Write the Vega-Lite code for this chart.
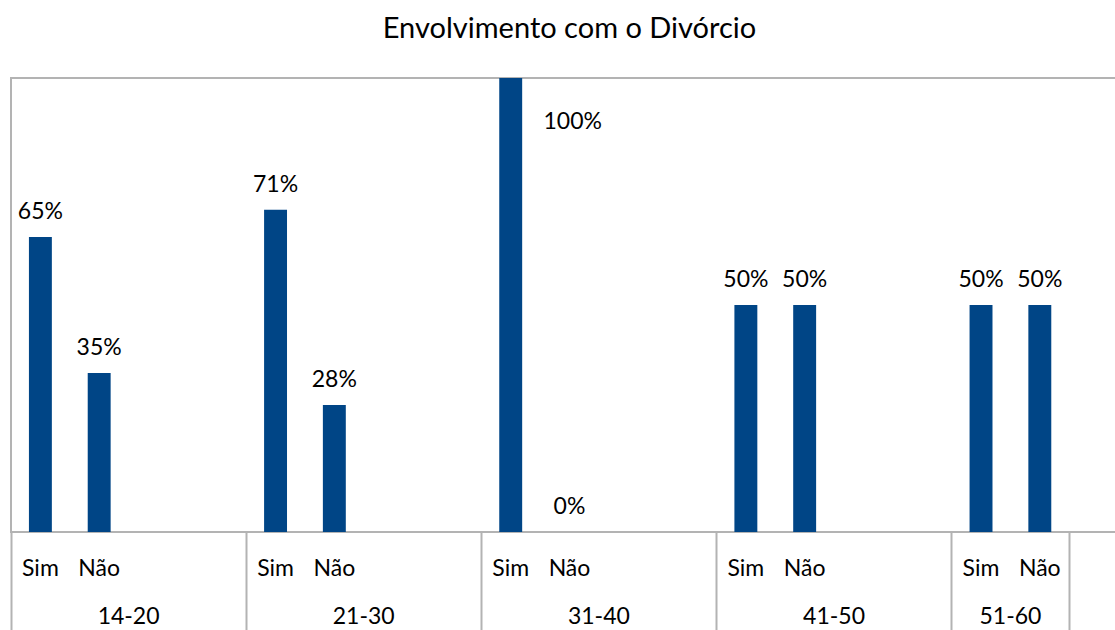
{
  "$schema": "https://vega.github.io/schema/vega-lite/v6.json",
  "autosize": {"type": "none"},
  "padding": {"left": 11, "top": 78, "right": 0, "bottom": 98},
  "width": 1117,
  "height": 454,
  "background": "white",
  "title": {
    "text": "Envolvimento com o Divórcio",
    "font": "Lato",
    "fontSize": 29,
    "fontWeight": "normal",
    "color": "#000000",
    "anchor": "middle",
    "baseline": "alphabetic",
    "offset": 11
  },
  "config": {
    "view": {"stroke": "#b3b3b3", "strokeWidth": 2},
    "text": {"font": "Lato", "fontSize": 23, "color": "#000000"}
  },
  "datasets": {
    "bars": [
      {"group": "14-20", "answer": "Sim", "slot": "14-20 Sim", "value": 0.65},
      {"group": "14-20", "answer": "Não", "slot": "14-20 Não", "value": 0.35},
      {"group": "21-30", "answer": "Sim", "slot": "21-30 Sim", "value": 0.71},
      {"group": "21-30", "answer": "Não", "slot": "21-30 Não", "value": 0.28},
      {"group": "31-40", "answer": "Sim", "slot": "31-40 Sim", "value": 1.0},
      {"group": "31-40", "answer": "Não", "slot": "31-40 Não", "value": 0.0},
      {"group": "41-50", "answer": "Sim", "slot": "41-50 Sim", "value": 0.5},
      {"group": "41-50", "answer": "Não", "slot": "41-50 Não", "value": 0.5},
      {"group": "51-60", "answer": "Sim", "slot": "51-60 Sim", "value": 0.5},
      {"group": "51-60", "answer": "Não", "slot": "51-60 Não", "value": 0.5}
    ],
    "groups": [
      {"group": "14-20", "anchor": "14-20 _a"},
      {"group": "21-30", "anchor": "21-30 _a"},
      {"group": "31-40", "anchor": "31-40 _a"},
      {"group": "41-50", "anchor": "41-50 _a"},
      {"group": "51-60", "anchor": "51-60 Não"}
    ]
  },
  "layer": [
    {
      "data": {"name": "bars"},
      "mark": {"type": "bar", "color": "#004586", "width": {"band": 0.39}},
      "encoding": {
        "x": {
          "field": "slot",
          "type": "nominal",
          "scale": {
            "domain": [
              "14-20 Sim", "14-20 Não", "14-20 _a", "14-20 _b",
              "21-30 Sim", "21-30 Não", "21-30 _a", "21-30 _b",
              "31-40 Sim", "31-40 Não", "31-40 _a", "31-40 _b",
              "41-50 Sim", "41-50 Não", "41-50 _a", "41-50 _b",
              "51-60 Sim", "51-60 Não", "_fim"
            ],
            "paddingInner": 0,
            "paddingOuter": 0
          },
          "axis": {
            "title": null,
            "domain": false,
            "grid": false,
            "bandPosition": 0,
            "tickSize": 100,
            "tickWidth": 2,
            "tickColor": "#b3b3b3",
            "tickOpacity": {
              "condition": {
                "test": "isString(datum.value) && (indexof(datum.value, 'Sim') > 0 || datum.value == '_fim')",
                "value": 1
              },
              "value": 0
            },
            "labelExpr": "isString(datum.value) && indexof(datum.value, ' ') > 0 && indexof(datum.value, '_') < 0 ? split(datum.value, ' ')[1] : ''",
            "labelAngle": 0,
            "labelAlign": "center",
            "labelFont": "Lato",
            "labelFontSize": 23,
            "labelColor": "#000000",
            "labelBaseline": "alphabetic",
            "labelPadding": -57,
            "labelOverlap": false,
            "labelBound": false,
            "labelFlush": false
          }
        },
        "y": {
          "field": "value",
          "type": "quantitative",
          "scale": {"domain": [0, 1], "nice": false, "zero": true},
          "axis": null
        }
      }
    },
    {
      "data": {"name": "bars"},
      "transform": [{"filter": "datum.value < 1"}],
      "mark": {"type": "text", "align": "center", "baseline": "alphabetic", "dy": -18},
      "encoding": {
        "x": {"field": "slot", "type": "nominal"},
        "y": {"field": "value", "type": "quantitative"},
        "text": {"field": "value", "type": "quantitative", "format": ".0%"}
      }
    },
    {
      "data": {"name": "bars"},
      "transform": [{"filter": "datum.value >= 1"}],
      "mark": {"type": "text", "align": "center", "baseline": "alphabetic", "dx": 62, "dy": 51},
      "encoding": {
        "x": {"field": "slot", "type": "nominal"},
        "y": {"field": "value", "type": "quantitative"},
        "text": {"field": "value", "type": "quantitative", "format": ".0%"}
      }
    },
    {
      "data": {"name": "groups"},
      "mark": {"type": "text", "align": "center", "baseline": "alphabetic", "dy": 92},
      "encoding": {
        "x": {"field": "anchor", "type": "nominal", "bandPosition": 0},
        "y": {"datum": 0, "type": "quantitative"},
        "text": {"field": "group"}
      }
    }
  ]
}
